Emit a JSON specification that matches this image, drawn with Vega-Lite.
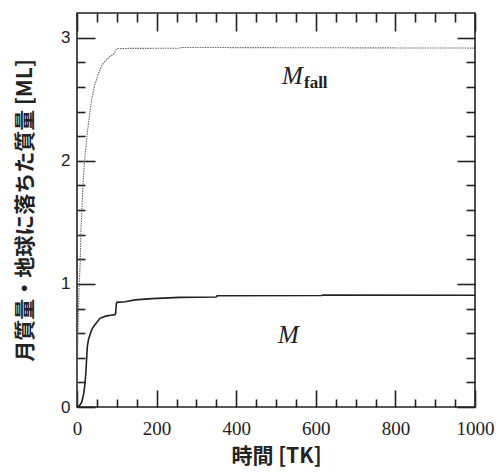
{
  "$schema": "https://vega.github.io/schema/vega-lite/v6.json",
  "width": 398,
  "height": 394,
  "autosize": {"type": "none"},
  "padding": {"left": 77, "top": 13, "right": 23, "bottom": 65},
  "background": "white",
  "config": {
    "view": {"stroke": "#222", "strokeWidth": 1.6},
    "axis": {"domain": false, "grid": false, "tickColor": "#222", "tickWidth": 1.6, "labelColor": "#222", "titleColor": "#222", "zindex": 1}
  },
  "datasets": {
    "fall": [
      {"t": 0, "m": 0}, {"t": 2, "m": 0.55}, {"t": 5, "m": 0.95}, {"t": 8, "m": 1.17},
      {"t": 10, "m": 1.44}, {"t": 13, "m": 1.66}, {"t": 16, "m": 1.87}, {"t": 20, "m": 2.03},
      {"t": 26, "m": 2.23}, {"t": 31, "m": 2.36}, {"t": 37, "m": 2.5}, {"t": 45, "m": 2.62},
      {"t": 54, "m": 2.71}, {"t": 62, "m": 2.77}, {"t": 70, "m": 2.81}, {"t": 78, "m": 2.83},
      {"t": 83, "m": 2.85}, {"t": 91, "m": 2.86}, {"t": 96, "m": 2.89}, {"t": 100, "m": 2.91},
      {"t": 104, "m": 2.912}, {"t": 258, "m": 2.914}, {"t": 262, "m": 2.92}, {"t": 1000, "m": 2.915}
    ],
    "moon": [
      {"t": 0, "m": 0}, {"t": 6, "m": 0.01}, {"t": 12, "m": 0.04}, {"t": 17, "m": 0.11},
      {"t": 20, "m": 0.19}, {"t": 22, "m": 0.27}, {"t": 24, "m": 0.38}, {"t": 26, "m": 0.49},
      {"t": 29, "m": 0.55}, {"t": 32, "m": 0.58}, {"t": 36, "m": 0.62}, {"t": 41, "m": 0.65},
      {"t": 48, "m": 0.68}, {"t": 58, "m": 0.72}, {"t": 66, "m": 0.73}, {"t": 74, "m": 0.74},
      {"t": 85, "m": 0.745}, {"t": 95, "m": 0.75}, {"t": 97, "m": 0.76}, {"t": 99, "m": 0.84},
      {"t": 100, "m": 0.85}, {"t": 121, "m": 0.855}, {"t": 146, "m": 0.87}, {"t": 188, "m": 0.88},
      {"t": 259, "m": 0.89}, {"t": 350, "m": 0.893}, {"t": 352, "m": 0.903}, {"t": 615, "m": 0.905},
      {"t": 617, "m": 0.91}, {"t": 1000, "m": 0.908}
    ],
    "labM": [{"t": 515, "m": 2.62, "txt": "M"}, {"t": 505, "m": 0.52, "txt": "M"}],
    "labSub": [{"t": 515, "m": 2.62, "txt": "fall"}]
  },
  "resolve": {"axis": {"x": "independent", "y": "independent"}},
  "layer": [
    {
      "data": {"name": "fall"},
      "mark": {"type": "line", "color": "#666", "strokeWidth": 1.1, "strokeDash": [1.5, 1], "interpolate": "linear"},
      "encoding": {
        "x": {
          "field": "t", "type": "quantitative",
          "scale": {"domain": [0, 1000], "nice": false, "zero": false},
          "axis": {
            "orient": "bottom",
            "values": [0, 200, 400, 600, 800, 1000],
            "tickSize": -17,
            "labelExpr": "format(datum.value, 'd')",
            "labelFont": "Liberation Serif", "labelFontSize": 19, "labelPadding": 29,
            "labelFlush": false, "labelOverlap": false,
            "title": "時間 [TK]", "titleFont": "Noto Sans CJK JP", "titleFontSize": 21, "titleFontWeight": "bold",
            "titleY": 49, "titleBaseline": "middle"
          }
        },
        "y": {
          "field": "m", "type": "quantitative",
          "scale": {"domain": [0, 3.2], "nice": false, "zero": false},
          "axis": {
            "orient": "left",
            "values": [0, 1, 2, 3],
            "tickSize": -18,
            "labelExpr": "format(datum.value, 'd')",
            "labelFont": "Liberation Sans", "labelFontSize": 17, "labelPadding": 25,
            "labelFlush": false, "labelOverlap": false,
            "title": "月質量・地球に落ちた質量 [ML]", "titleFont": "Noto Sans CJK JP", "titleFontSize": 21, "titleFontWeight": "bold",
            "titleX": -52, "titleBaseline": "middle"
          }
        }
      }
    },
    {
      "data": {"name": "moon"},
      "mark": {"type": "line", "color": "#222", "strokeWidth": 1.6, "interpolate": "linear"},
      "encoding": {
        "x": {
          "field": "t", "type": "quantitative",
          "axis": {"orient": "top", "values": [0, 200, 400, 600, 800, 1000], "tickSize": -18, "labels": false, "title": null}
        },
        "y": {
          "field": "m", "type": "quantitative",
          "axis": {"orient": "right", "values": [0, 1, 2, 3], "tickSize": -18, "labels": false, "title": null}
        }
      }
    },
    {
      "data": {"name": "labM"},
      "mark": {"type": "text", "align": "left", "baseline": "alphabetic", "font": "Liberation Serif", "fontStyle": "italic", "fontSize": 25, "color": "#222"},
      "encoding": {
        "x": {
          "field": "t", "type": "quantitative",
          "axis": {"orient": "bottom", "values": [50, 100, 150, 250, 300, 350, 450, 500, 550, 650, 700, 750, 850, 900, 950], "tickSize": -8, "labels": false, "title": null}
        },
        "y": {
          "field": "m", "type": "quantitative",
          "axis": {"orient": "left", "values": [0.2, 0.4, 0.6, 0.8, 1.2, 1.4, 1.6, 1.8, 2.2, 2.4, 2.6, 2.8], "tickSize": -8, "labels": false, "title": null}
        },
        "text": {"field": "txt"}
      }
    },
    {
      "data": {"name": "labSub"},
      "mark": {"type": "text", "align": "left", "baseline": "alphabetic", "font": "Liberation Serif", "fontWeight": "bold", "fontSize": 17, "color": "#222", "dx": 22, "dy": 4},
      "encoding": {
        "x": {
          "field": "t", "type": "quantitative",
          "axis": {"orient": "top", "values": [50, 100, 150, 250, 300, 350, 450, 500, 550, 650, 700, 750, 850, 900, 950], "tickSize": -9, "labels": false, "title": null}
        },
        "y": {
          "field": "m", "type": "quantitative",
          "axis": {"orient": "right", "values": [0.2, 0.4, 0.6, 0.8, 1.2, 1.4, 1.6, 1.8, 2.2, 2.4, 2.6, 2.8], "tickSize": -9, "labels": false, "title": null}
        },
        "text": {"field": "txt"}
      }
    }
  ]
}
